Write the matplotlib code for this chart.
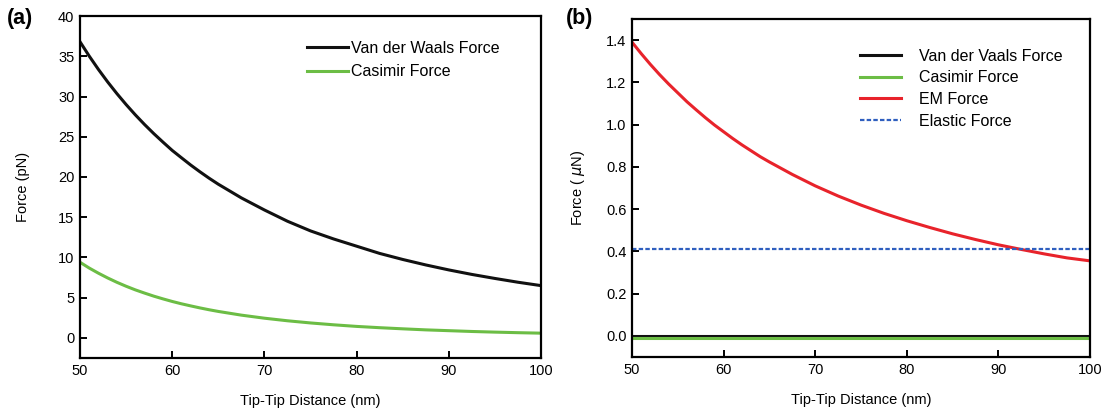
import numpy as np
import matplotlib
matplotlib.use("Agg")
import matplotlib.pyplot as plt

plt.rcParams['font.family'] = ['Liberation Sans', 'DejaVu Sans']
plt.rcParams['mathtext.fontset'] = 'dejavusans'

# tip-tip distance (nm), denser where the curves bend most
dist = [50, 51, 52, 53, 54, 55, 56, 57, 58, 59, 60, 61, 62, 63, 64, 65,
        67.5, 70, 72.5, 75, 77.5, 80, 82.5, 85, 87.5, 90, 92.5, 95, 97.5, 100]

# panel (a), forces in pN
vdw_pN = [36.8, 35.02, 33.36, 31.81, 30.36, 29.0, 27.72, 26.52, 25.39, 24.33,
          23.3, 22.39, 21.49, 20.65, 19.85, 19.1,
          17.4, 15.9, 14.5, 13.3, 12.3, 11.4, 10.5, 9.75, 9.07, 8.45, 7.89,
          7.39, 6.92, 6.5]
casimir_pN = [9.4, 8.68, 8.04, 7.45, 6.91, 6.42, 5.97, 5.57, 5.19, 4.85,
              4.53, 4.24, 3.98, 3.73, 3.50, 3.29,
              2.83, 2.45, 2.13, 1.86, 1.63, 1.43, 1.27, 1.13, 1.00, 0.90, 0.80,
              0.72, 0.65, 0.59]

# panel (b), forces in uN
vdw_uN = [0.0] * len(dist)
casimir_uN = [-0.01] * len(dist)
em_uN = [1.39, 1.336, 1.285, 1.237, 1.192, 1.150, 1.108, 1.070, 1.033, 0.998,
         0.966, 0.934, 0.904, 0.876, 0.848, 0.823,
         0.764, 0.710, 0.662, 0.619, 0.580, 0.545, 0.513, 0.483, 0.456, 0.431,
         0.409, 0.388, 0.369, 0.355]
elastic_uN = [0.41] * len(dist)

c_black = '#111111'
c_green = '#6cbd45'
c_red = '#e8232b'
c_blue = '#2f5fbf'

fig = plt.figure(figsize=(11.1, 4.12), dpi=100)
ax1 = fig.add_axes([0.0721, 0.131, 0.4153, 0.830])
ax2 = fig.add_axes([0.5694, 0.1335, 0.4126, 0.8205])

def style(ax):
    for s in ax.spines.values():
        s.set_linewidth(1.6)
    ax.tick_params(direction='in', length=5, width=1.4, labelsize=10.5,
                   top=False, right=False, pad=4)
    ax.set_xlim(50, 100)
    ax.set_xticks([50, 60, 70, 80, 90, 100])
    ax.set_xlabel('Tip-Tip Distance (nm)', fontsize=10.5, labelpad=12)

# (a)
ax1.plot(dist, vdw_pN, color=c_black, lw=2.2, label='Van der Waals Force')
ax1.plot(dist, casimir_pN, color=c_green, lw=2.2, label='Casimir Force')
style(ax1)
ax1.set_ylim(-2.5, 40)
ax1.set_yticks(np.arange(0, 41, 5))
ax1.set_ylabel('Force (pN)', fontsize=10.5, labelpad=20)
ax1.legend(loc='upper right', bbox_to_anchor=(0.941, 0.97), frameon=False,
           fontsize=11.5, handlelength=2.6, handletextpad=0.15, labelspacing=0.55)
fig.text(0.006, 0.955, '(a)', fontsize=15.5, fontweight='bold', va='center')

# (b)
ax2.plot(dist, vdw_uN, color=c_black, lw=2.2, label='Van der Vaals Force')
ax2.plot(dist, casimir_uN, color=c_green, lw=2.2, label='Casimir Force')
ax2.plot(dist, em_uN, color=c_red, lw=2.2, label='EM Force')
ax2.plot(dist, elastic_uN, color=c_blue, lw=1.6, ls=(0, (2, 1)), label='Elastic Force')
style(ax2)
ax2.set_ylim(-0.1, 1.5)
ax2.set_yticks(np.arange(0, 1.41, 0.2))
ax2.yaxis.set_major_formatter(matplotlib.ticker.FormatStrFormatter('%.1f'))
ax2.set_ylabel(r'Force ( $\mu$N)', fontsize=10.5, labelpad=14)
ax2.legend(loc='upper right', bbox_to_anchor=(0.971, 0.955), frameon=False,
           fontsize=11.5, handlelength=2.6, handletextpad=1.1, labelspacing=0.42)
fig.text(0.510, 0.955, '(b)', fontsize=15.5, fontweight='bold', va='center')

fig.savefig('out.png', dpi=100)
